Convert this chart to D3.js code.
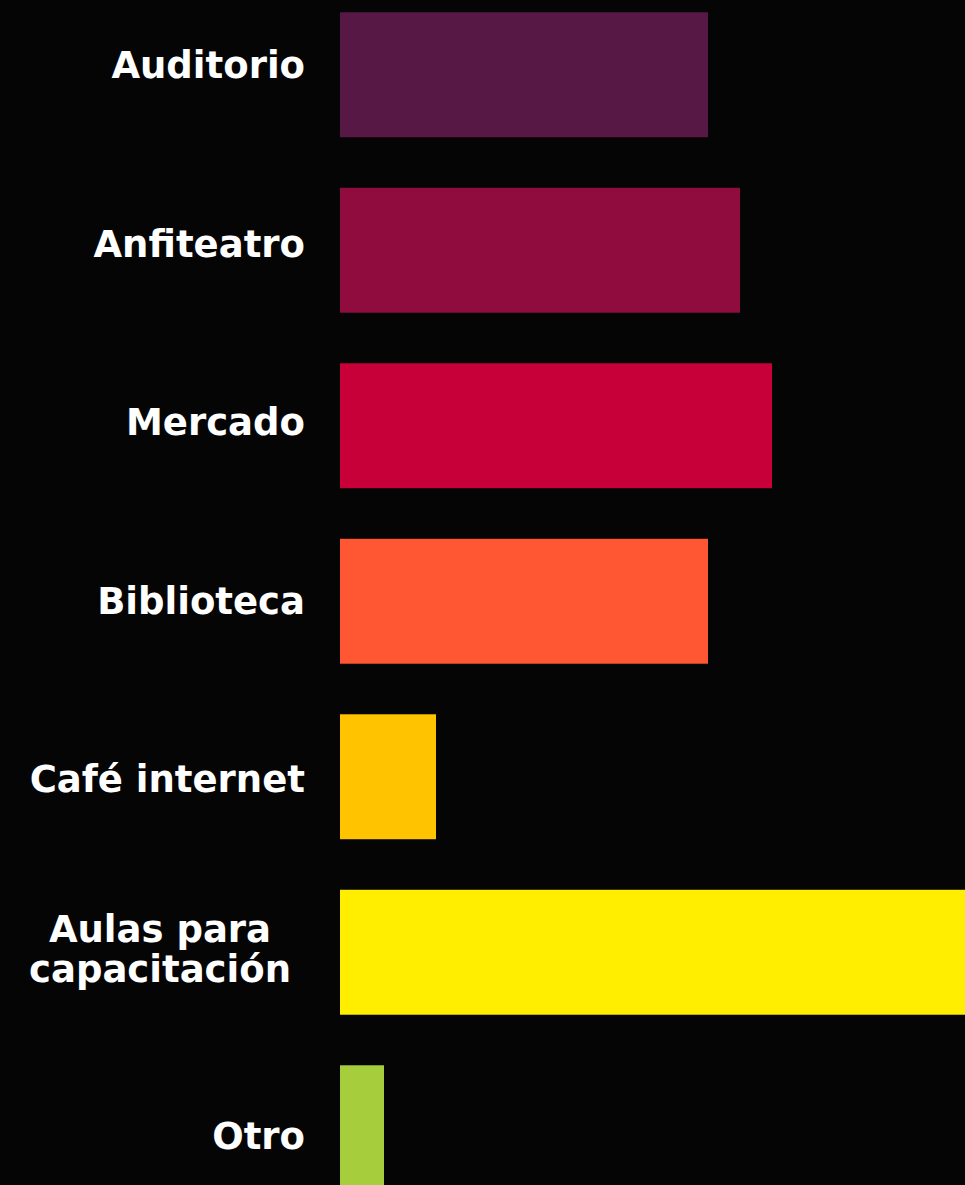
<!DOCTYPE html>
<html>
<head>
<meta charset="utf-8">
<script src="https://cdn.jsdelivr.net/npm/d3@7"></script>
<style>
html,body{margin:0;padding:0;background:#050505;}
svg{display:block;}
</style>
</head>
<body>
<div id="chart"></div>
<script>
const categories = ["Auditorio","Anfiteatro","Mercado","Biblioteca","Café internet","Aulas para capacitación","Otro"];
const labelLines = [["Auditorio"],["Anfiteatro"],["Mercado"],["Biblioteca"],["Café internet"],["Aulas para","capacitación"],["Otro"]];
const values = [92,100,108,92,24,160,11];
const colors = ["#581845","#900C3F","#C70039","#FF5733","#FFC300","#FFEE00","#A5CD3C"];

const W = 965, H = 1185;
const svg = d3.select("#chart").append("svg").attr("width",W).attr("height",H)
  .style("background","#050505");

const x = d3.scaleLinear().domain([0,100]).range([340,740]);
const y = d3.scaleBand().domain(categories).range([-13,1215.5]).paddingInner(0.288).paddingOuter(0.144);
const yLabel = d3.scalePoint().domain(categories).range([65,1136]);

svg.selectAll("rect.bar").data(categories).join("rect")
  .attr("class","bar")
  .attr("x", x(0))
  .attr("y", d=>y(d))
  .attr("width", (d,i)=>x(values[i])-x(0))
  .attr("height", y.bandwidth())
  .attr("fill", (d,i)=>colors[i]);

const fontSize = 37;
const lineH = 39.5;
const g = svg.append("g");
categories.forEach((c,i)=>{
  const lines = labelLines[i];
  const cy = yLabel(c);
  const t = g.append("text")
    .attr("fill","#ffffff")
    .attr("font-family","'Century Gothic','URW Gothic','DejaVu Sans',sans-serif")
    .attr("font-weight","bold")
    .attr("font-size",fontSize)
    .attr("text-anchor", lines.length>1 ? "middle":"end");
  const ax = lines.length>1 ? 160 : 305;
  lines.forEach((ln,j)=>{
    if (lines.length>1) {
      t.append("tspan").attr("x",ax).attr("y", cy - 15.5 + j*lineH).text(ln);
    } else {
      t.append("tspan").attr("x",ax).attr("y", cy).attr("dy","0.36em").text(ln);
    }
  });
});
</script>
</body>
</html>
